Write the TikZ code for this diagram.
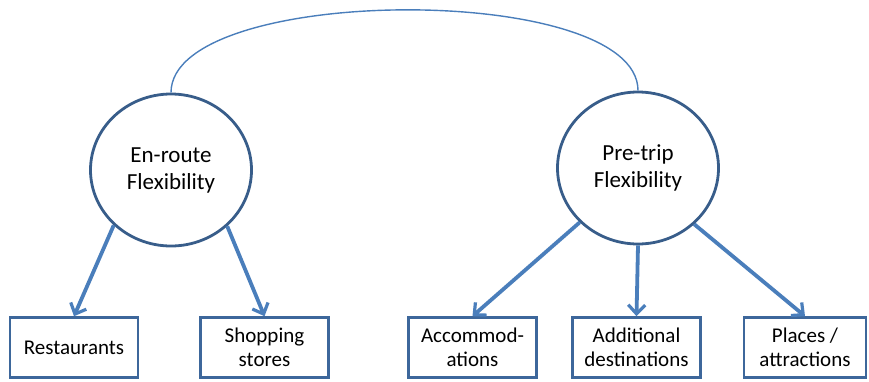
\documentclass[tikz,border=0pt]{standalone}
\usepackage{fontspec}
\setmainfont{Carlito}
\usetikzlibrary{shapes.geometric,arrows.meta}
\definecolor{circline}{HTML}{385D8A}
\definecolor{boxline}{HTML}{3D679B}
\definecolor{arrline}{HTML}{4A7EBB}
\tikzset{
  factor/.style={ellipse, draw=circline, line width=2.8pt, minimum width=161pt, minimum height=152pt,
    align=center, font=\fontsize{23}{27}\selectfont, inner sep=0pt},
  item/.style={rectangle, draw=boxline, line width=2.6pt, minimum width=128pt, minimum height=60pt,
    align=center, font=\fontsize{21}{24}\selectfont, inner sep=0pt},
  load/.style={draw=arrline, line width=3.8pt, -{Straight Barb[length=9pt,width=17pt,line width=3.2pt]}},
  cov/.style={draw=arrline, line width=1.4pt}
}
\begin{document}
\begin{tikzpicture}[x=1pt,y=-1pt]
\useasboundingbox (0,0) rectangle (869,381);
\node[factor] (L) at (171,170) {En-route\\Flexibility};
\node[factor] (R) at (638,168) {Pre-trip\\Flexibility};
\node[item] (r1) at (74,347.5) {Restaurants};
\node[item] (r2) at (264.5,347.5) {Shopping\\stores};
\node[item] (p1) at (472.5,347.5) {Accommod-\\ations};
\node[item] (p2) at (636.5,347.5) {Additional\\destinations};
\node[item, minimum width=122pt] (p3) at (805,347.5) {Places /\\attractions};
\draw[cov] (L.north) .. controls +(0,-109) and +(0,-109) .. (R.north);
\draw[load] (L.224) -- (r1.north);
\draw[load] (L.315) -- (r2.north);
\draw[load] (R.223) -- (p1.north);
\draw[load] (R.270) -- (p2.north);
\draw[load] (R.315) -- (p3.north);
\end{tikzpicture}
\end{document}
